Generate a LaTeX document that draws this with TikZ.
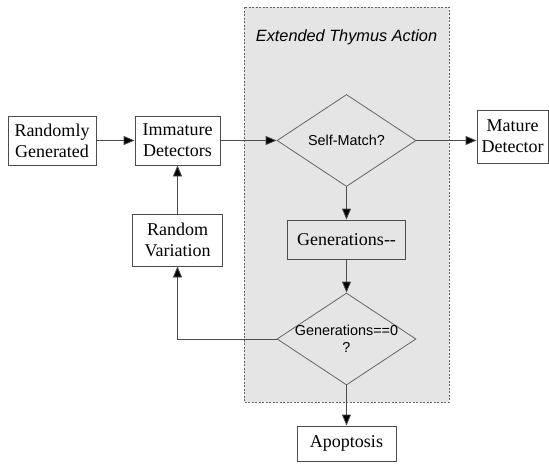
\documentclass[tikz,border=0pt]{standalone}
\usepackage{fontspec}
\setmainfont{Liberation Serif}
\setsansfont{Liberation Sans}
\usetikzlibrary{shapes.geometric,arrows.meta}

\tikzset{
  process/.style={draw=black!70, line width=0.8pt, rectangle, align=center, inner sep=2pt,
    font=\fontsize{18}{21}\selectfont},
  decision/.style={draw=black!60, line width=0.8pt, diamond, align=center,
    minimum width=139pt, minimum height=92pt, inner xsep=-12pt, inner ysep=-10pt,
    font=\sffamily\fontsize{14.4}{17.5}\selectfont},
  flow/.style={draw=black!70, line width=0.8pt, -{Triangle[length=11pt,width=9pt,fill=black]}},
}

\begin{document}
\begin{tikzpicture}[x=1pt, y=-1pt]
    \useasboundingbox (0,0) rectangle (549,464);

    \filldraw[fill=gray!20, draw=black!60, line width=0.7pt, dash pattern=on 2pt off 1.5pt] (244,7) rectangle (449,402);
    \node[font=\sffamily\itshape\fontsize{16.3}{19}\selectfont] (title) at (346.5,37) {Extended Thymus Action};

    \node[process, minimum width=88pt, minimum height=49pt] (rg) at (52,140.5) {Randomly\\Generated};
    \node[process, minimum width=85pt, minimum height=49pt] (id) at (177.5,140.5) {Immature\\Detectors};
    \node[process, minimum width=90pt, minimum height=52pt] (rv) at (177.5,240) {Random\\Variation};
    \node[decision] (sm) at (346.5,140.5) {Self-Match?};
    \node[process, minimum width=71pt, minimum height=53pt] (md) at (512.5,136.5) {Mature\\Detector};
    \node[process, minimum width=118pt, minimum height=39pt] (gd) at (346.5,239.5) {Generations\mbox{-}\mbox{-}};
    \node[decision] (gz) at (346.5,339) {Generations==0\\?};
    \node[process, minimum width=99pt, minimum height=35pt] (ap) at (346.5,443.5) {Apoptosis};

    \draw[flow] (rg) -- (id);
    \draw[flow] (id) -- (sm);
    \draw[flow] (sm.east) -- (sm.east -| md.west);
    \draw[flow] (sm.south) -- (gd.north);
    \draw[flow] (gd.south) -- (gz.north);
    \draw[flow] (gz.south) -- (ap.north);
    \draw[flow] (gz.west) -| (rv.south);
    \draw[flow] (rv.north) -- (id.south);
\end{tikzpicture}
\end{document}
